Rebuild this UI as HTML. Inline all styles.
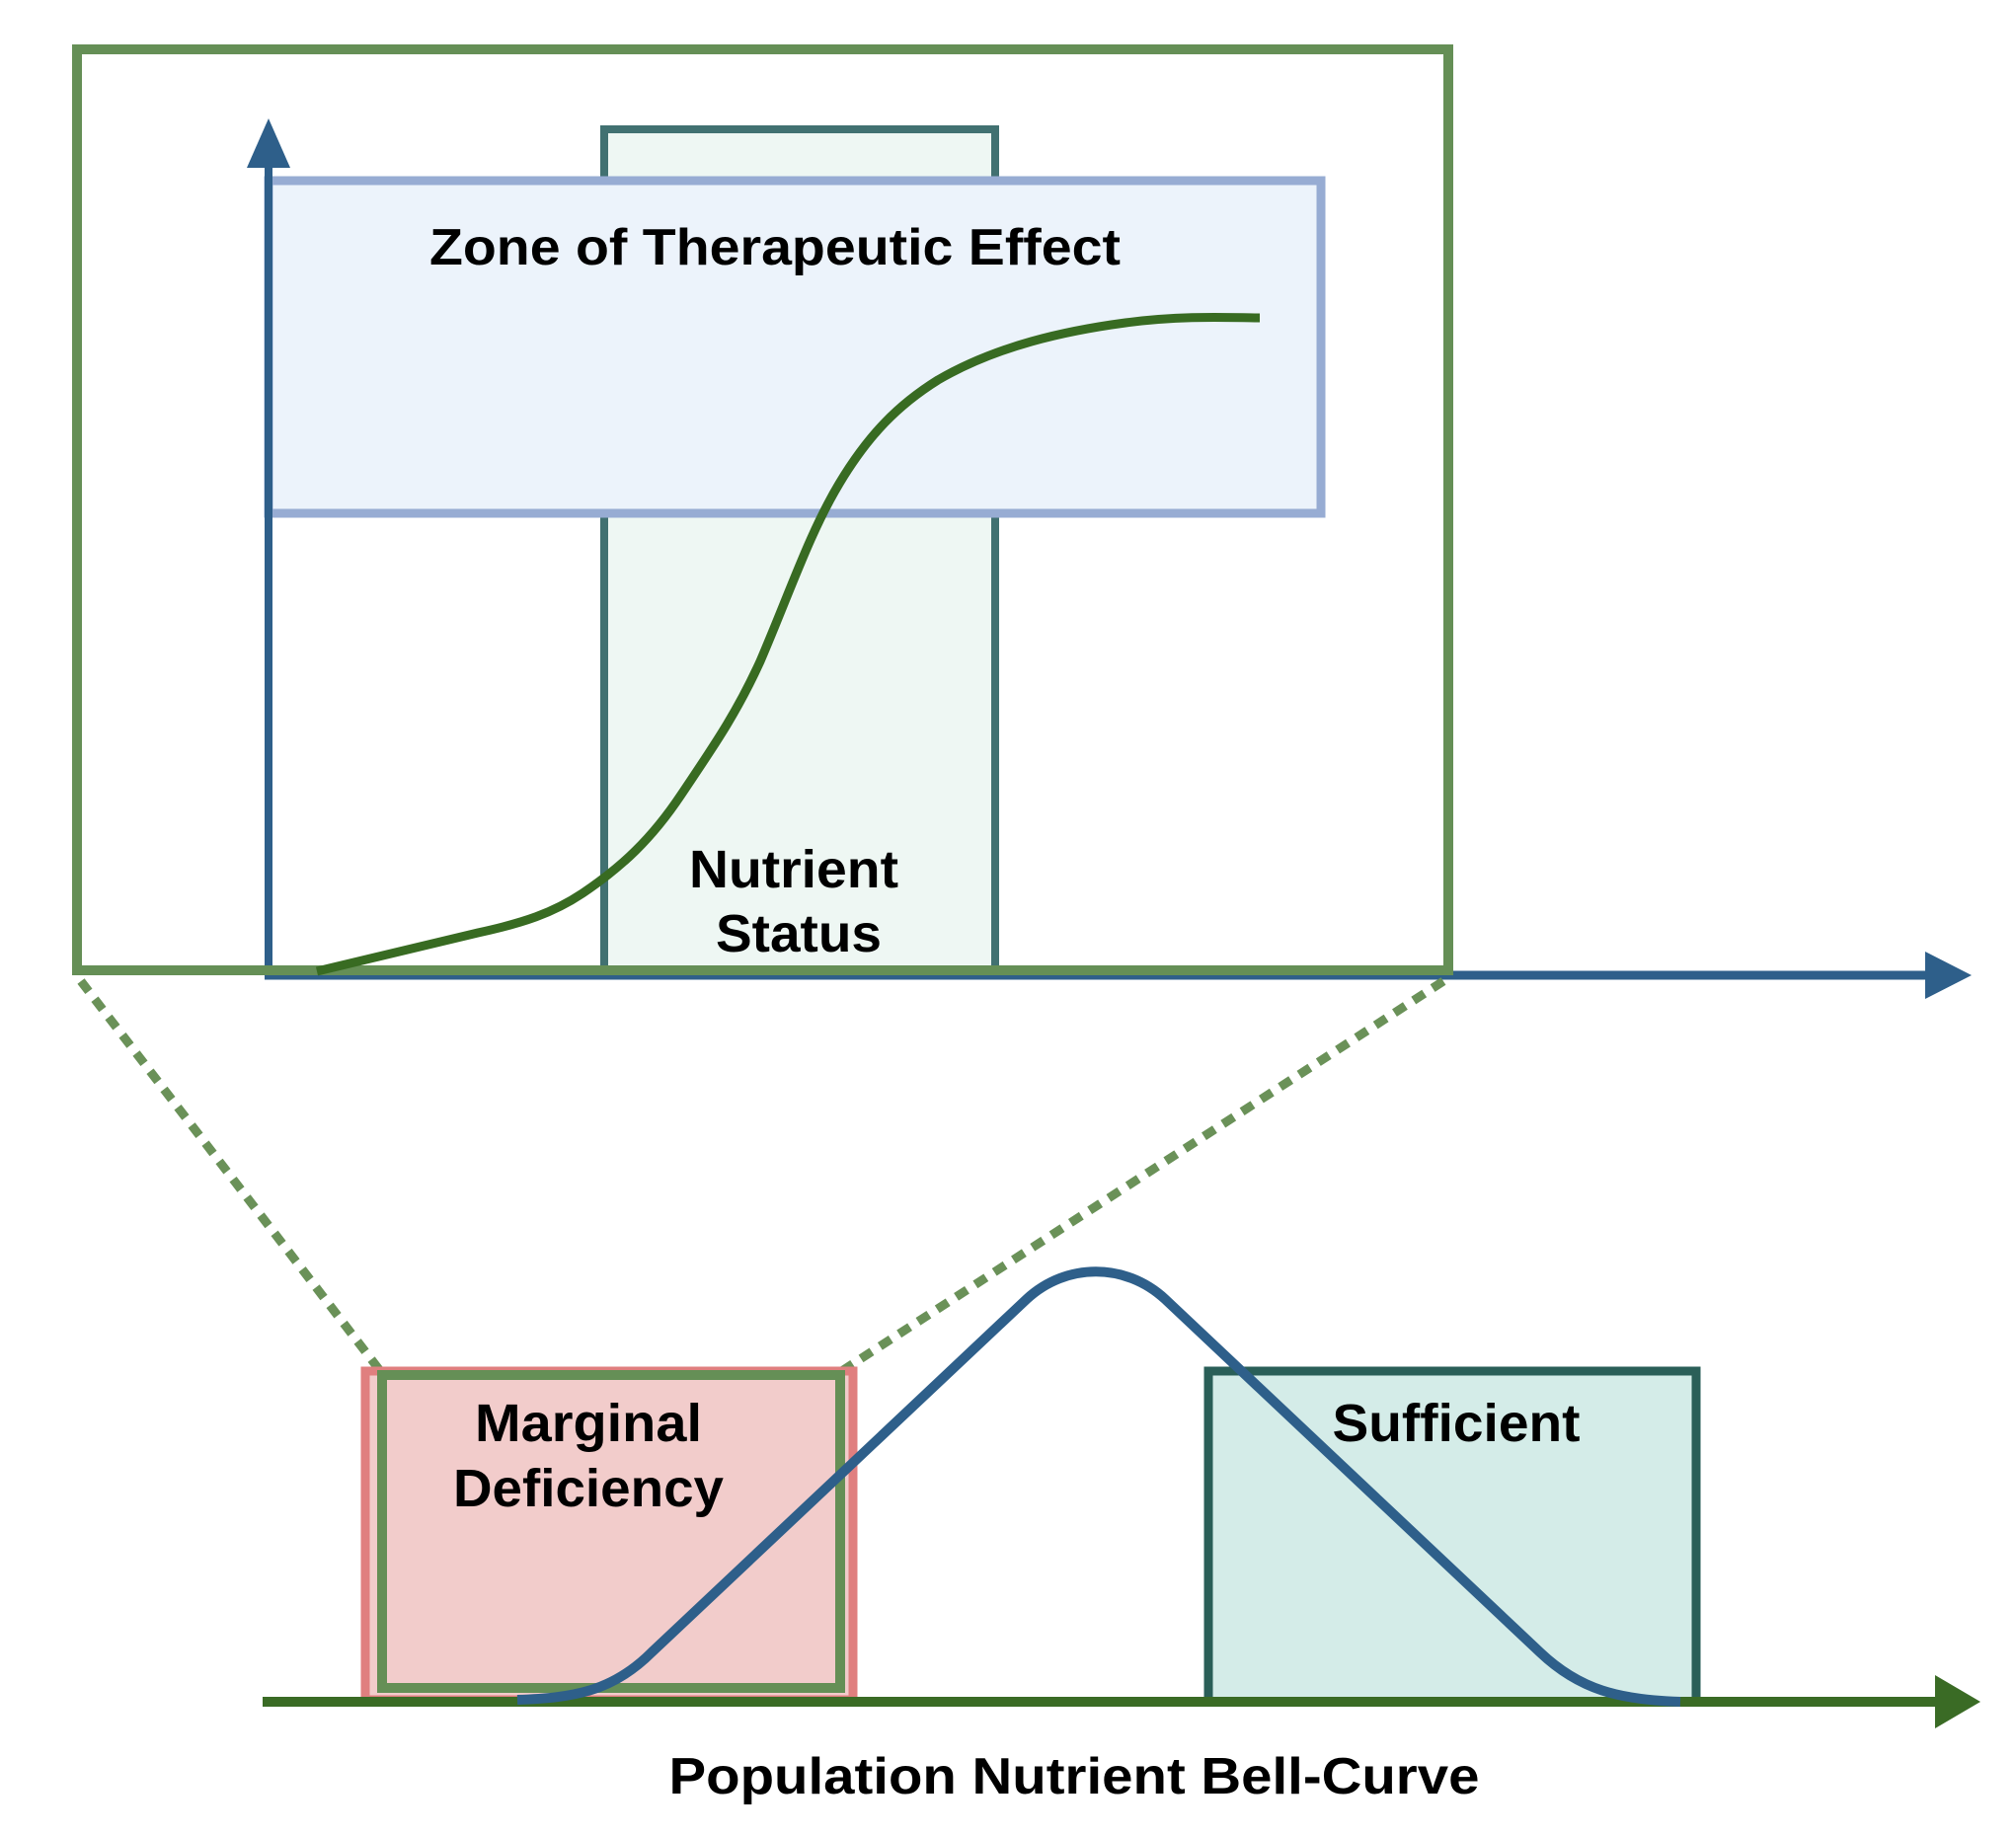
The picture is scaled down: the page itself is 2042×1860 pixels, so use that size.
<!DOCTYPE html>
<html><head><meta charset="utf-8"><style>html,body{margin:0;padding:0;background:#fff}svg{display:block}</style></head>
<body>
<svg width="2042" height="1860" viewBox="0 0 2042 1860" xmlns="http://www.w3.org/2000/svg" font-family="'Liberation Sans', sans-serif" font-weight="bold">
<rect x="0" y="0" width="2042" height="1860" fill="#fff"/>
<rect x="612" y="131" width="396" height="852" fill="#eef7f3" stroke="#417171" stroke-width="8"/>
<rect x="272" y="183" width="1066" height="337" fill="#ecf3fb" stroke="#97acd3" stroke-width="9"/>
<line x1="272" y1="988" x2="272" y2="165" stroke="#2e5f8a" stroke-width="8"/>
<polygon points="272,120 250,170 294,170" fill="#2e5f8a"/>
<line x1="268" y1="988" x2="1955" y2="988" stroke="#2e5f8a" stroke-width="9"/>
<polygon points="1997,988 1950,964 1950,1012" fill="#2e5f8a"/>
<rect x="78" y="50" width="1389" height="933" fill="none" stroke="#658f56" stroke-width="10"/>
<path d="M321,984 C380,970 440,955 484,945 C530,935 560,925 590,905 C630,878 660,850 690,805 C720,760 745,725 770,670 C800,600 820,540 850,490 C880,440 910,410 950,385 C1010,350 1080,335 1140,327 C1200,319 1250,322 1276,322" fill="none" stroke="#386b22" stroke-width="9"/>
<text x="785" y="268" font-size="52" text-anchor="middle" textLength="700" lengthAdjust="spacingAndGlyphs">Zone of Therapeutic Effect</text>
<text x="804" y="899" font-size="54" text-anchor="middle" textLength="212" lengthAdjust="spacingAndGlyphs">Nutrient</text>
<text x="809" y="964" font-size="54" text-anchor="middle" textLength="168" lengthAdjust="spacingAndGlyphs">Status</text>
<line x1="82" y1="994" x2="386" y2="1390" stroke="#6a9158" stroke-width="9" stroke-dasharray="13,10"/>
<line x1="1462" y1="994" x2="851" y2="1390" stroke="#6a9158" stroke-width="9" stroke-dasharray="13,10"/>
<rect x="370" y="1389" width="494" height="333" fill="#f2cccb" stroke="#e07f7f" stroke-width="9"/>
<rect x="387" y="1393" width="464" height="317" fill="none" stroke="#658f56" stroke-width="10"/>
<rect x="1224" y="1389" width="494" height="335" fill="#d4ece8" stroke="#2a5f58" stroke-width="9"/>
<line x1="266" y1="1724" x2="1960" y2="1724" stroke="#3a6b25" stroke-width="10"/>
<polygon points="2006,1724 1960,1697 1960,1751" fill="#3a6b25"/>
<path d="M524,1722 C580,1720 620,1714 660,1674 L1040,1316 C1080,1279 1140,1279 1180,1316 L1560,1674 C1600,1712 1640,1722 1702,1724" fill="none" stroke="#2e5f8a" stroke-width="10"/>
<text x="596" y="1460" font-size="54" text-anchor="middle" textLength="230" lengthAdjust="spacingAndGlyphs">Marginal</text>
<text x="596" y="1526" font-size="54" text-anchor="middle" textLength="274" lengthAdjust="spacingAndGlyphs">Deficiency</text>
<text x="1475" y="1460" font-size="54" text-anchor="middle" textLength="251" lengthAdjust="spacingAndGlyphs">Sufficient</text>
<text x="1088" y="1817" font-size="52" text-anchor="middle" textLength="821" lengthAdjust="spacingAndGlyphs">Population Nutrient  Bell-Curve</text>
</svg>
</body></html>
